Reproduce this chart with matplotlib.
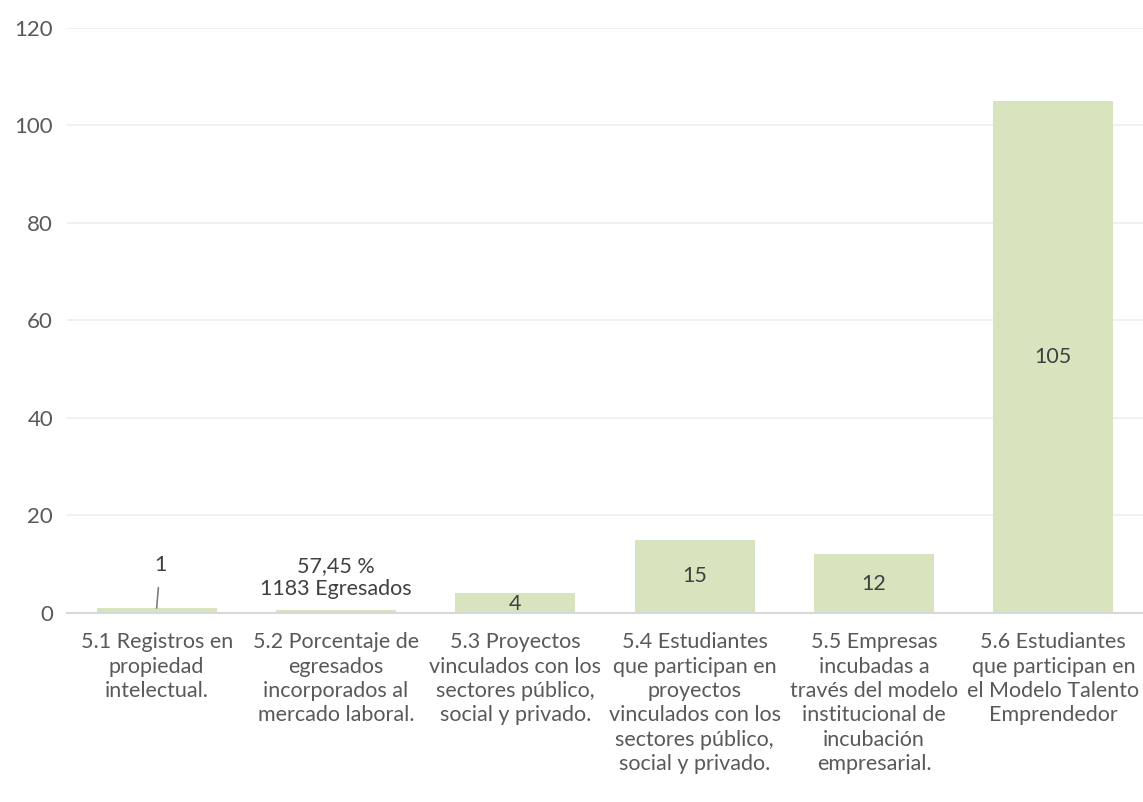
import numpy as np
import matplotlib.pyplot as plt

plt.rcParams['font.family'] = ['Lato', 'DejaVu Sans']

categories = [
    "5.1 Registros en\npropiedad\nintelectual.",
    "5.2 Porcentaje de\negresados\nincorporados al\nmercado laboral.",
    "5.3 Proyectos\nvinculados con los\nsectores público,\nsocial y privado.",
    "5.4 Estudiantes\nque participan en\nproyectos\nvinculados con los\nsectores público,\nsocial y privado.",
    "5.5 Empresas\nincubadas a\ntravés del modelo\ninstitucional de\nincubación\nempresarial.",
    "5.6 Estudiantes\nque participan en\nel Modelo Talento\nEmprendedor",
]
values = [1, 0.5745, 4, 15, 12, 105]
bar_labels = ["1", "57,45 %\n1183 Egresados", "4", "15", "12", "105"]

bar_color = "#d7e4bd"
text_color = "#595959"
label_color = "#404040"
fs = 15.5

fig = plt.figure(figsize=(11.43, 8.02), dpi=100)
ax = fig.add_axes([0.0586, 0.2357, 0.9414, 0.73])

x = np.arange(len(categories))
bars = ax.bar(x, values, width=0.67, color=bar_color, zorder=2)

ax.set_xlim(-0.5, len(categories) - 0.5)
ax.set_ylim(0, 120)
ax.set_yticks(np.arange(0, 121, 20))
ax.yaxis.grid(True, color="#efefef", linewidth=1.3, zorder=0)
ax.set_axisbelow(True)

for s in ["top", "right", "left"]:
    ax.spines[s].set_visible(False)
ax.spines["bottom"].set_color("#d9d9d9")
ax.spines["bottom"].set_linewidth(1.5)

ax.tick_params(axis="y", length=0, labelsize=16, labelcolor=text_color, pad=10)
ax.tick_params(axis="x", length=0, labelsize=fs, labelcolor=text_color, pad=14)
ax.set_xticks(x)
ax.set_xticklabels(categories, linespacing=1.27)

# data labels
for i, (v, lab) in enumerate(zip(values, bar_labels)):
    if i == 0:
        ax.annotate(lab, xy=(x[i], v), xytext=(x[i] + 0.02, 9.8), ha="center", va="center",
                    fontsize=fs, color=label_color,
                    arrowprops=dict(arrowstyle="-", color="#7f7f7f", lw=1.2,
                                    shrinkA=7, shrinkB=0))
    elif i == 1:
        ax.text(x[i], 7.2, lab, ha="center", va="center", fontsize=fs,
                color=label_color, linespacing=1.2)
    elif i == 2:
        ax.text(x[i], 1.8, lab, ha="center", va="center", fontsize=fs, color=label_color)
    else:
        ax.text(x[i], v / 2, lab, ha="center", va="center", fontsize=fs, color=label_color)

plt.savefig("out.png", dpi=100)
